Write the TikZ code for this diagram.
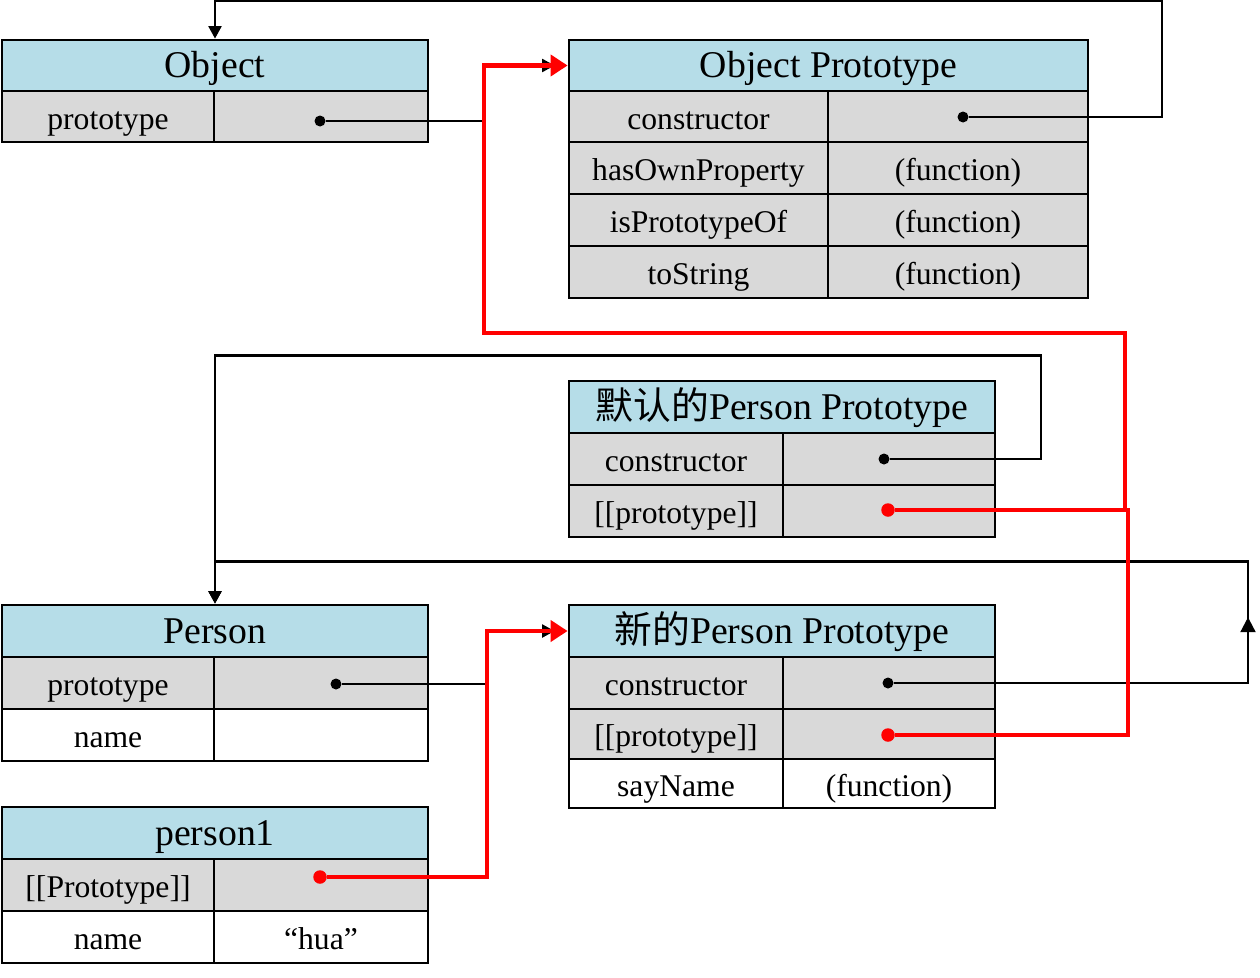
\documentclass[tikz,border=0pt]{standalone}
\usepackage{fontspec}
\setmainfont{Liberation Serif}
\newfontfamily\cjk{Noto Sans CJK SC}
\usepackage{xcolor}
\usetikzlibrary{arrows.meta,calc,decorations.markings}
\definecolor{headblue}{RGB}{182,221,232}
\definecolor{rowgray}{RGB}{217,217,217}
% cell: name, x1, y1, x2, y2, style, text
\newcommand{\cellat}[7]{\node[#6, minimum width={(#4-#2)*0.02cm}, minimum height={(#5-#3)*0.02cm}] (#1) at ({(#2+#4)/2},{(#3+#5)/2}) {#7};}

\begin{document}
\begin{tikzpicture}[x=0.02cm,y=-0.02cm]
\tikzset{
	cell/.style = {draw, line width=1.6pt, inner sep=0, fill=white, text height=14.4pt, text depth=0pt, font=\fontsize{18}{20}\selectfont},
	grey/.style = {cell, fill=rowgray},
	head/.style = {cell, fill=headblue, text height=13.9pt, font=\fontsize{21.5}{24}\selectfont},
	dot/.style = {circle, fill=black, inner sep=0, minimum size=0.22cm},
	red dot/.style = {circle, fill=red, inner sep=0, minimum size=0.27cm},
	link/.style = {line width=1.3pt, -{Triangle[length=0.25cm,width=0.26cm]}},
	red link/.style = {line width=2.3pt, red, -{Triangle[length=0.34cm,width=0.42cm]}}
}
\useasboundingbox (0,0) rectangle (1260,977);
% Object
\cellat{objH}{2}{40}{428}{91}{head}{Object}
\cellat{objK}{2}{91}{214}{142}{grey}{prototype}
\cellat{objV}{214}{91}{428}{142}{grey}{}
% Object Prototype
\cellat{opH}{569}{40}{1088}{91}{head}{Object Prototype}
\cellat{opK1}{569}{91}{828}{142}{grey}{constructor}
\cellat{opV1}{828}{91}{1088}{142}{grey}{}
\cellat{opK2}{569}{142}{828}{194}{grey}{hasOwnProperty}
\cellat{opV2}{828}{142}{1088}{194}{grey}{(function)}
\cellat{opK3}{569}{194}{828}{246}{grey}{isPrototypeOf}
\cellat{opV3}{828}{194}{1088}{246}{grey}{(function)}
\cellat{opK4}{569}{246}{828}{298}{grey}{toString}
\cellat{opV4}{828}{246}{1088}{298}{grey}{(function)}
% default Person Prototype
\cellat{dpH}{569}{381}{995}{433}{head}{{\cjk 默认的}Person Prototype}
\cellat{dpK1}{569}{433}{783}{485}{grey}{constructor}
\cellat{dpV1}{783}{433}{995}{485}{grey}{}
\cellat{dpK2}{569}{485}{783}{537}{grey}{[[prototype]]}
\cellat{dpV2}{783}{485}{995}{537}{grey}{}
% Person
\cellat{pH}{2}{605}{428}{657}{head}{Person}
\cellat{pK1}{2}{657}{214}{709}{grey}{prototype}
\cellat{pV1}{214}{657}{428}{709}{grey}{}
\cellat{pK2}{2}{709}{214}{761}{cell}{name}
\cellat{pV2}{214}{709}{428}{761}{cell}{}
% new Person Prototype
\cellat{npH}{569}{605}{995}{657}{head}{{\cjk 新的}Person Prototype}
\cellat{npK1}{569}{657}{783}{709}{grey}{constructor}
\cellat{npV1}{783}{657}{995}{709}{grey}{}
\cellat{npK2}{569}{709}{783}{759}{grey}{[[prototype]]}
\cellat{npV2}{783}{709}{995}{759}{grey}{}
\cellat{npK3}{569}{759}{783}{808}{cell}{sayName}
\cellat{npV3}{783}{759}{995}{808}{cell}{(function)}
% person1
\cellat{p1H}{2}{807}{428}{859}{head}{person1}
\cellat{p1K1}{2}{859}{214}{911}{grey}{[[Prototype]]}
\cellat{p1V1}{214}{859}{428}{911}{grey}{}
\cellat{p1K2}{2}{911}{214}{963}{cell}{name}
\cellat{p1V2}{214}{911}{428}{963}{cell}{“hua”}
% dots
\node[dot](objD) at (320,121){};
\node[dot](opD) at (963,117){};
\node[dot](dpD1) at (884,459){};
\node[red dot](dpD2) at (888,510){};
\node[dot](pD) at (336,684){};
\node[dot](npD1) at (888,683){};
\node[red dot](npD2) at (888,735){};
\node[red dot](p1D) at (320,877){};
% black links
\draw[link, shorten >=0.26cm] (objD) -- ++(164,0) |- (opH.west);
\draw[link] (opD) -- ++(199,0) |- ($(objH.north)+(0,-38)$) -- (objH.north);
\draw[link] (dpD1) -- ++(157,0) |- ($(pH.north)+(0,-248)$) -- (pH.north);
\draw[link, postaction={decorate, decoration={markings,
	mark=at position 8.4cm with {\arrow{Triangle[length=0.3cm,width=0.3cm]}}}}]
	(npD1) -- ++(360,0) |- ($(pH.north)+(0,-42)$) -- (pH.north);
\draw[link, shorten >=0.26cm] (pD) -- ++(151,0) |- (npH.west);
% red links
\draw[red link] (p1D) -- ++(167,0) |- (npH.west);
\draw[red link] (dpD2) -- ++(237,0) |- (484,333) |- (opH.west);
\draw[red link, -] (npD2) -- ++(240,0) |- (dpD2);
\end{tikzpicture}
\end{document}
